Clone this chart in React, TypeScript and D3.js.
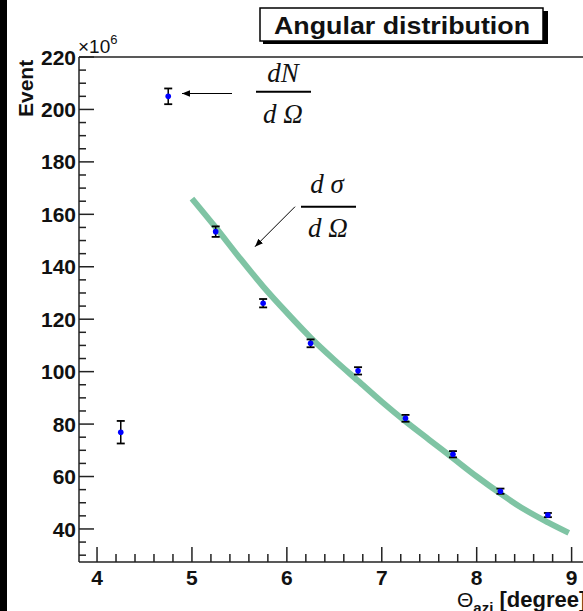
import React from "react";
import * as d3 from "d3";

const W = 583;
const H = 611;

// Data points (theta azimuth, events in 10^6)
const pointX = [4.25, 4.75, 5.25, 5.75, 6.25, 6.75, 7.25, 7.75, 8.25, 8.75];
const pointY = [76.9, 205.0, 153.4, 126.1, 110.8, 100.3, 82.2, 68.5, 54.4, 45.3];
const pointErr = [4.3, 3.0, 2.0, 1.6, 1.5, 1.4, 1.3, 1.2, 1.0, 0.8];

// Theory curve dσ/dΩ
const curveX = [5.0, 5.25, 5.5, 5.75, 6.0, 6.25, 6.5, 6.75, 7.0, 7.25, 7.5, 7.75, 8.0, 8.25, 8.5, 8.75, 8.97];
const curveY = [166, 155, 143.5, 132.5, 122.5, 113, 104.5, 96.5, 88.5, 81, 74, 67, 60, 53.5, 47.5, 42.5, 38.5];

const xMajor = [4, 5, 6, 7, 8, 9];
const yMajor = [40, 60, 80, 100, 120, 140, 160, 180, 200, 220];

const SANS = "'Liberation Sans', Arial, sans-serif";
const SERIF = "'Liberation Serif', 'Times New Roman', serif";

export default function App() {
  const x = d3.scaleLinear().domain([3.81, 9.12]).range([79, 583]);
  const y = d3.scaleLinear().domain([27.4, 220]).range([562, 57]);

  const xMinor = d3.range(4, 9.2, 0.2).map((v) => +v.toFixed(2)).filter((v) => v > 3.81 && v < 9.12 && Math.abs(v - Math.round(v)) > 1e-6);
  const yMinor = d3.range(30, 221, 5).filter((v) => v % 20 !== 0);

  const line = d3
    .line<number>()
    .x((_, i) => x(curveX[i]))
    .y((d) => y(d))
    .curve(d3.curveCatmullRom);

  const axisColor = "#222";
  const left = x.range()[0];
  const bottom = y.range()[0];
  const top = y.range()[1];

  return (
    <svg
      width={W}
      height={H}
      style={{ position: "absolute", left: 0, top: 0, background: "#fff" }}
    >
      <defs>
        <marker id="ah" viewBox="0 0 10 10" refX="10" refY="5" markerWidth="8" markerHeight="8" orient="auto-start-reverse" markerUnits="userSpaceOnUse">
          <path d="M0,1 L10,5 L0,9 z" fill="#000" />
        </marker>
      </defs>
      <rect x={0} y={0} width={W} height={H} fill="#fff" />
      <rect x={0} y={0} width={7} height={H} fill="#000" />

      {/* frame */}
      <line x1={left} x2={W} y1={top} y2={top} stroke={axisColor} strokeWidth={1.5} />
      <line x1={left} x2={left} y1={top} y2={bottom} stroke={axisColor} strokeWidth={1.5} />
      <line x1={left} x2={W} y1={bottom} y2={bottom} stroke={axisColor} strokeWidth={1.5} />

      {/* y ticks */}
      {yMajor.map((v) => (
        <g key={"ym" + v}>
          <line x1={left} x2={left + 15} y1={y(v)} y2={y(v)} stroke={axisColor} strokeWidth={1.5} />
          <text x={left - 3} y={y(v)} dy="0.36em" textAnchor="end" fontFamily={SANS} fontWeight="bold" fontSize={21} fill="#111">
            {v}
          </text>
        </g>
      ))}
      {yMinor.map((v) => (
        <line key={"yn" + v} x1={left} x2={left + 7} y1={y(v)} y2={y(v)} stroke={axisColor} strokeWidth={1.5} />
      ))}

      {/* x ticks */}
      {xMajor.map((v) => (
        <g key={"xm" + v}>
          <line x1={x(v)} x2={x(v)} y1={bottom} y2={bottom - 15} stroke={axisColor} strokeWidth={1.5} />
          <text x={x(v)} y={bottom + 23} textAnchor="middle" fontFamily={SANS} fontWeight="bold" fontSize={21} fill="#111">
            {v}
          </text>
        </g>
      ))}
      {xMinor.map((v) => (
        <line key={"xn" + v} x1={x(v)} x2={x(v)} y1={bottom} y2={bottom - 8} stroke={axisColor} strokeWidth={1.5} />
      ))}

      {/* axis titles */}
      <text transform={`translate(33,117) rotate(-90)`} fontFamily={SANS} fontWeight="bold" fontSize={21} fill="#111">
        Event
      </text>
      <text x={78} y={53} fontFamily={SANS} fontSize={19} fill="#111">
        ×10
        <tspan dy={-9} fontSize={13}>6</tspan>
      </text>
      <text x={457} y={607} fontFamily={SANS} fontSize={21} fill="#111">
        Θ
        <tspan dy={6} fontSize={15} fontWeight="bold">azi</tspan>
        <tspan dy={-6} fontWeight="bold" fontSize={22}> [degree]</tspan>
      </text>

      {/* theory curve */}
      <path d={line(curveY) || ""} fill="none" stroke="#7fc4a4" strokeWidth={6} strokeLinecap="butt" />

      {/* data points */}
      {pointX.map((px, i) => {
        const cx = x(px);
        const y1 = y(pointY[i] + pointErr[i]);
        const y2 = y(pointY[i] - pointErr[i]);
        return (
          <g key={"p" + i}>
            <line x1={cx} x2={cx} y1={y1} y2={y2} stroke="#000" strokeWidth={1.5} />
            <line x1={cx - 4} x2={cx + 4} y1={y1} y2={y1} stroke="#000" strokeWidth={1.8} />
            <line x1={cx - 4} x2={cx + 4} y1={y2} y2={y2} stroke="#000" strokeWidth={1.8} />
            <circle cx={cx} cy={y(pointY[i])} r={2.8} fill="#0000ff" />
          </g>
        );
      })}

      {/* title box */}
      <rect x={263} y={11} width={285} height={33} fill="#000" />
      <rect x={260} y={8} width={283} height={33} fill="#fff" stroke="#000" strokeWidth={1.5} />
      <text x={402} y={34} textAnchor="middle" fontFamily={SANS} fontWeight="bold" fontSize={24} textLength={256} lengthAdjust="spacingAndGlyphs" fill="#111">
        Angular distribution
      </text>

      {/* dN/dΩ annotation */}
      <text x={283} y={82} textAnchor="middle" fontFamily={SERIF} fontStyle="italic" fontSize={27} fill="#111">dN</text>
      <line x1={256} x2={311} y1={91.7} y2={91.7} stroke="#000" strokeWidth={2} />
      <text x={283} y={123} textAnchor="middle" fontFamily={SERIF} fontStyle="italic" fontSize={27} fill="#111">d Ω</text>
      <line x1={232} x2={182} y1={93.5} y2={93.5} stroke="#000" strokeWidth={1} markerEnd="url(#ah)" />

      {/* dσ/dΩ annotation */}
      <text x={327} y={193} textAnchor="middle" fontFamily={SERIF} fontStyle="italic" fontSize={27} fill="#111">d σ</text>
      <line x1={301} x2={356} y1={206.7} y2={206.7} stroke="#000" strokeWidth={2} />
      <text x={328} y={237} textAnchor="middle" fontFamily={SERIF} fontStyle="italic" fontSize={27} fill="#111">d Ω</text>
      <line x1={295} x2={255} y1={206.7} y2={246.7} stroke="#000" strokeWidth={1} markerEnd="url(#ah)" />
    </svg>
  );
}
